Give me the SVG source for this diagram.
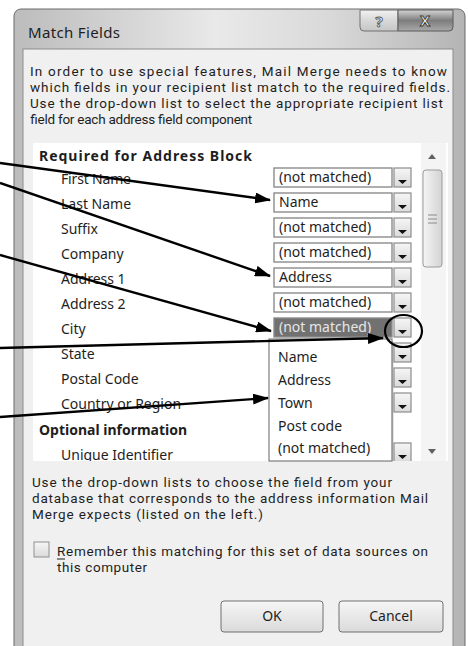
<svg xmlns="http://www.w3.org/2000/svg" width="468" height="646" viewBox="0 0 468 646">
<style>
text{font-family:"Noto Sans","Open Sans","Liberation Sans",sans-serif;font-size:14px;fill:#1e1e1e}
.p{font-family:Roboto,"Noto Sans",sans-serif;font-size:13.5px}
.b{font-weight:bold}
.cb{fill:#fff;stroke:#8c8c8c;stroke-width:1.4}
.btn{fill:url(#g-btn);stroke:#8c8c8c;stroke-width:1.2}
.tri{fill:#111}
.conn{stroke:#000;stroke-width:2.4;fill:none;marker-end:url(#ah)}
</style>
<defs>
<linearGradient id="g-frame" x1="0" y1="0" x2="1" y2="0">
<stop offset="0" stop-color="#bcbcbc"/><stop offset="0.45" stop-color="#e9e9e9"/><stop offset="0.7" stop-color="#d9d9d9"/><stop offset="1" stop-color="#b4b4b4"/>
</linearGradient>
<linearGradient id="g-x" x1="0" y1="0" x2="0" y2="1">
<stop offset="0" stop-color="#d4d4d4"/><stop offset="0.5" stop-color="#7d7d7d"/><stop offset="1" stop-color="#a9a9a9"/>
</linearGradient>
<linearGradient id="g-q" x1="0" y1="0" x2="0" y2="1">
<stop offset="0" stop-color="#f2f2f2"/><stop offset="0.5" stop-color="#d8d8d8"/><stop offset="1" stop-color="#c6c6c6"/>
</linearGradient>
<linearGradient id="g-btn" x1="0" y1="0" x2="0" y2="1">
<stop offset="0" stop-color="#f6f6f6"/><stop offset="1" stop-color="#dadada"/>
</linearGradient>
<linearGradient id="g-thumb" x1="0" y1="0" x2="1" y2="0">
<stop offset="0" stop-color="#f5f5f5"/><stop offset="1" stop-color="#d3d3d3"/>
</linearGradient>
<clipPath id="listclip"><rect x="33" y="143" width="415" height="318"/></clipPath>
<marker id="ah" viewBox="0 0 16 11" refX="15" refY="5.5" markerWidth="16" markerHeight="11" markerUnits="userSpaceOnUse" orient="auto">
<path d="M0,0 L16,5.5 L0,11 Z" fill="#000"/>
</marker>
</defs>

<g id="window">
<rect x="14" y="9" width="451" height="660" rx="7" fill="url(#g-frame)" stroke="#6a6a6a" stroke-width="1"/>
<text x="28" y="38" style="font-size:15px" textLength="92">Match Fields</text>
</g>

<g id="help-button">
<path d="M360,10 H398 V31 H364 Q360,31 360,27 Z" fill="url(#g-q)" stroke="#707070"/>
<text x="379" y="27" text-anchor="middle" class="b" style="font-size:15px;fill:#fff;stroke:#555;stroke-width:0.9">?</text>
</g>
<g id="close-button">
<path d="M398,10 H453 V27 Q453,31 449,31 H398 Z" fill="url(#g-x)" stroke="#5a5a5a"/>
<text x="425" y="26" text-anchor="middle" class="b" style="font-size:15px;fill:#fff;stroke:#3a3a3a;stroke-width:0.9">X</text>
</g>

<g id="content">
<rect x="23" y="49" width="430" height="610" fill="#f0f0f0" stroke="#8c8c8c"/>
<text class="p" x="30" y="76" textLength="417">In order to use special features, Mail Merge needs to know</text>
<text class="p" x="30" y="92" textLength="420">which fields in your recipient list match to the required fields.</text>
<text class="p" x="30" y="108" textLength="413">Use the drop-down list to select the appropriate recipient list</text>
<text class="p" x="30" y="124" textLength="222">field for each address field component</text>
</g>

<g id="field-list">
<rect x="33" y="143" width="415" height="318" fill="#fff"/>
<g clip-path="url(#listclip)">
<text x="39" y="161" class="b" textLength="213">Required for Address Block</text>
<text x="61" y="184" textLength="70">First Name</text>
<text x="61" y="209">Last Name</text>
<text x="61" y="234">Suffix</text>
<text x="61" y="259">Company</text>
<text x="61" y="284">Address 1</text>
<text x="61" y="309">Address 2</text>
<text x="61" y="334">City</text>
<text x="61" y="359">State</text>
<text x="61" y="384">Postal Code</text>
<text x="61" y="409">Country or Region</text>
<text x="39" y="435" class="b">Optional information</text>
<text x="61" y="460">Unique Identifier</text>
</g>
</g>

<g id="scrollbar">
<rect x="421" y="143" width="25" height="318" fill="#f4f4f4"/>
<path d="M428,159 L436,159 L432,154 Z" fill="#606060"/>
<rect x="423" y="170" width="19" height="97" rx="3" fill="url(#g-thumb)" stroke="#9a9a9a"/>
<path d="M428,215 H437 M428,219 H437 M428,223 H437" stroke="#8a8a8a" stroke-width="1"/>
<path d="M428,449 L436,449 L432,454 Z" fill="#606060"/>
</g>

<g id="combos" clip-path="url(#listclip)">
<g id="combo-first-name"><rect x="274" y="168" width="118" height="19" class="cb"/><rect x="394" y="168" width="17" height="19" class="btn"/><path d="M398,180 H407 L402.5,184 Z" class="tri"/><text x="279" y="182">(not matched)</text></g>
<g id="combo-last-name"><rect x="274" y="193" width="118" height="19" class="cb"/><rect x="394" y="193" width="17" height="19" class="btn"/><path d="M398,205 H407 L402.5,209 Z" class="tri"/><text x="279" y="207">Name</text></g>
<g id="combo-suffix"><rect x="274" y="218" width="118" height="19" class="cb"/><rect x="394" y="218" width="17" height="19" class="btn"/><path d="M398,230 H407 L402.5,234 Z" class="tri"/><text x="279" y="232">(not matched)</text></g>
<g id="combo-company"><rect x="274" y="243" width="118" height="19" class="cb"/><rect x="394" y="243" width="17" height="19" class="btn"/><path d="M398,255 H407 L402.5,259 Z" class="tri"/><text x="279" y="257">(not matched)</text></g>
<g id="combo-address1"><rect x="274" y="268" width="118" height="19" class="cb"/><rect x="394" y="268" width="17" height="19" class="btn"/><path d="M398,280 H407 L402.5,284 Z" class="tri"/><text x="279" y="282">Address</text></g>
<g id="combo-address2"><rect x="274" y="293" width="118" height="19" class="cb"/><rect x="394" y="293" width="17" height="19" class="btn"/><path d="M398,305 H407 L402.5,309 Z" class="tri"/><text x="279" y="307">(not matched)</text></g>
<g id="combo-city"><rect x="274" y="318" width="118" height="19" fill="#717171" stroke="#8c8c8c" stroke-width="1.4"/><rect x="394" y="318" width="17" height="19" class="btn"/><path d="M398,330 H407 L402.5,334 Z" class="tri"/><text x="279" y="332" style="fill:#e6e6e6">(not matched)</text></g>
<g id="combo-state"><rect x="274" y="343" width="118" height="19" class="cb"/><rect x="394" y="343" width="17" height="19" class="btn"/><path d="M398,355 H407 L402.5,359 Z" class="tri"/></g>
<g id="combo-postal"><rect x="274" y="368" width="118" height="19" class="cb"/><rect x="394" y="368" width="17" height="19" class="btn"/><path d="M398,380 H407 L402.5,384 Z" class="tri"/></g>
<g id="combo-country"><rect x="274" y="393" width="118" height="19" class="cb"/><rect x="394" y="393" width="17" height="19" class="btn"/><path d="M398,405 H407 L402.5,409 Z" class="tri"/></g>
<g id="combo-unique"><rect x="274" y="443" width="118" height="19" class="cb"/><rect x="394" y="443" width="17" height="19" class="btn"/><path d="M398,455 H407 L402.5,459 Z" class="tri"/></g>
</g>

<g id="dropdown-list">
<rect x="269" y="339" width="123" height="122" fill="#fff" stroke="#646464"/>
<path d="M392.5,341 V461" stroke="#9a9a9a" stroke-width="1.5"/>
<text x="278" y="362">Name</text>
<text x="278" y="385">Address</text>
<text x="278" y="408">Town</text>
<text x="278" y="431">Post code</text>
<text x="278" y="453">(not matched)</text>
</g>

<g id="bottom-text">
<text class="p" x="32" y="487" textLength="360">Use the drop-down lists to choose the field from your</text>
<text class="p" x="32" y="503" textLength="396">database that corresponds to the address information Mail</text>
<text class="p" x="32" y="519" textLength="231">Merge expects (listed on the left.)</text>
</g>

<g id="remember-checkbox">
<rect x="34" y="542" width="15" height="15" fill="url(#g-btn)" stroke="#8e8f8f"/>
<text class="p" x="57" y="556" textLength="371">Remember this matching for this set of data sources on</text>
<path d="M57,559 H65" stroke="#1e1e1e" stroke-width="1"/>
<text class="p" x="57" y="572" textLength="90">this computer</text>
</g>

<g id="ok-button">
<rect x="221" y="601" width="102" height="31" rx="3" fill="url(#g-btn)" stroke="#707070"/>
<text x="272" y="621" text-anchor="middle">OK</text>
</g>
<g id="cancel-button">
<rect x="339" y="601" width="104" height="31" rx="3" fill="url(#g-btn)" stroke="#707070"/>
<text x="391" y="621" text-anchor="middle">Cancel</text>
</g>

<g id="highlight-circle">
<ellipse cx="403.5" cy="331" rx="18.5" ry="16" fill="none" stroke="#000" stroke-width="2.2"/>
</g>

<g id="connectors">
<path class="conn" d="M0,163 L270,200"/>
<path class="conn" d="M0,183 L270,276"/>
<path class="conn" d="M0,255 L271,331"/>
<path class="conn" d="M0,348 L383,338"/>
<path class="conn" d="M0,417 L268,398"/>
</g>
</svg>
